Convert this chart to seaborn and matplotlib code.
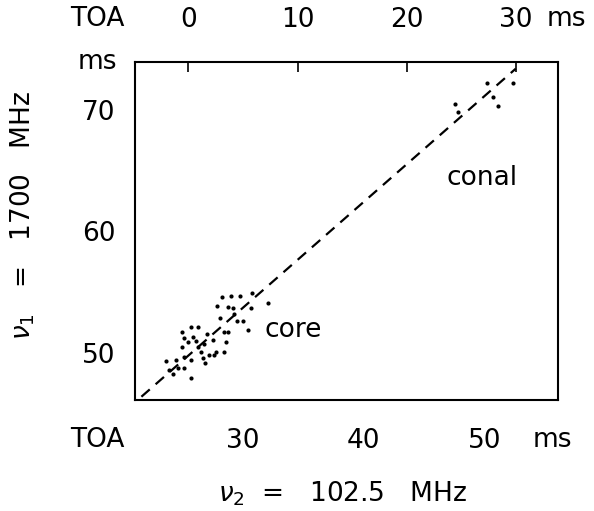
import numpy as np
import pandas as pd
import matplotlib
matplotlib.use("Agg")
import matplotlib.pyplot as plt
import seaborn as sns

# TOA pairs (ms): nu2 = 102.5 MHz (x), nu1 = 1700 MHz (y)
core_x = [28.3, 29.0, 29.8, 30.8, 32.1, 27.9, 28.8, 29.2, 30.7, 29.5,
          30.0, 30.4, 25.0, 25.7, 26.3, 25.1, 25.9, 25.5, 28.4, 28.8,
          28.6, 28.4, 27.5, 26.8, 26.3, 26.5, 27.2, 27.8, 25.0, 23.6,
          24.5, 25.1, 25.7, 26.7, 26.9, 27.6, 24.6, 25.1, 23.9, 25.7,
          27.0, 28.1, 29.3, 26.1, 24.2]
core_y = [54.6, 54.7, 54.7, 54.9, 54.1, 53.9, 53.8, 53.7, 53.7, 52.6,
          52.6, 51.9, 51.7, 52.1, 52.1, 51.2, 51.3, 50.9, 51.7, 51.7,
          50.9, 50.1, 51.1, 50.7, 50.5, 50.1, 49.8, 50.1, 50.5, 49.3,
          49.4, 49.7, 49.4, 49.6, 49.2, 49.8, 48.8, 48.8, 48.6, 47.9,
          51.6, 52.9, 53.2, 51.0, 48.3]
conal_x = [50.2, 52.4, 50.7, 51.1, 47.6, 47.8]
conal_y = [72.2, 72.2, 71.1, 70.3, 70.5, 69.8]
line_x = [21.6, 52.6]
line_y = [46.4, 73.4]

bottom_ticks = [30, 40, 50]
left_ticks = [50, 60, 70]
top_ticks = [0, 10, 20, 30]

sns.set_style("white")
plt.rcParams['font.family'] = ['DejaVu Sans']
plt.rcParams['text.color'] = 'black'
plt.rcParams['axes.labelcolor'] = 'black'

fig = plt.figure(figsize=(5.94, 5.11), dpi=100)
ax = fig.add_axes([135/594, 1 - 400/511, (558 - 135)/594, (400 - 62)/511])

dots = pd.DataFrame({"x": core_x + conal_x, "y": core_y + conal_y})
sns.scatterplot(data=dots, x="x", y="y", color="black", s=9, linewidth=0, ax=ax)
sns.lineplot(x=line_x, y=line_y, color="black", lw=1.6, ax=ax)
ax.lines[-1].set_dashes([5, 3.5])

ax.set_xlim(21.07, 56.1)
ax.set_ylim(46.13, 73.95)
ax.set_xticks(bottom_ticks)
ax.set_yticks(left_ticks)
ax.tick_params(direction="in", length=7, width=1.2, labelsize=19, colors="black")
ax.tick_params(axis="x", pad=20)
ax.tick_params(axis="y", pad=14)
for s in ax.spines.values():
    s.set_visible(True)
    s.set_color("black")
    s.set_linewidth(1.5)

sec = ax.secondary_xaxis("top", functions=(lambda v: (v - 25.5) * 1.107,
                                            lambda t: t / 1.107 + 25.5))
sec.set_xticks(top_ticks)
sec.tick_params(direction="in", length=7, width=1.2, labelsize=19, pad=21,
                colors="black")
sec.spines["top"].set_visible(False)

ax.set_xlabel(r"$\nu_2$  =   102.5   MHz", fontsize=19)
ax.set_ylabel(r"$\nu_1$   =   1700   MHz", fontsize=19)
ax.xaxis.set_label_coords(0.49, -0.235)
ax.yaxis.set_label_coords(-0.232, 0.545)

ax.text(31.8, 51.9, "core", fontsize=19, va="center", ha="left")
ax.text(49.8, 64.4, "conal", fontsize=19, va="center", ha="center")

fig.text(97/594, 1 - 440/511, "TOA", fontsize=19, ha="center", va="center")
fig.text(552/594, 1 - 440/511, "ms", fontsize=19, ha="center", va="center")
fig.text(97/594, 1 - 19/511, "TOA", fontsize=19, ha="center", va="center")
fig.text(566/594, 1 - 19/511, "ms", fontsize=19, ha="center", va="center")
fig.text(97/594, 1 - 62/511, "ms", fontsize=19, ha="center", va="center")

fig.savefig("out.png", dpi=100)
